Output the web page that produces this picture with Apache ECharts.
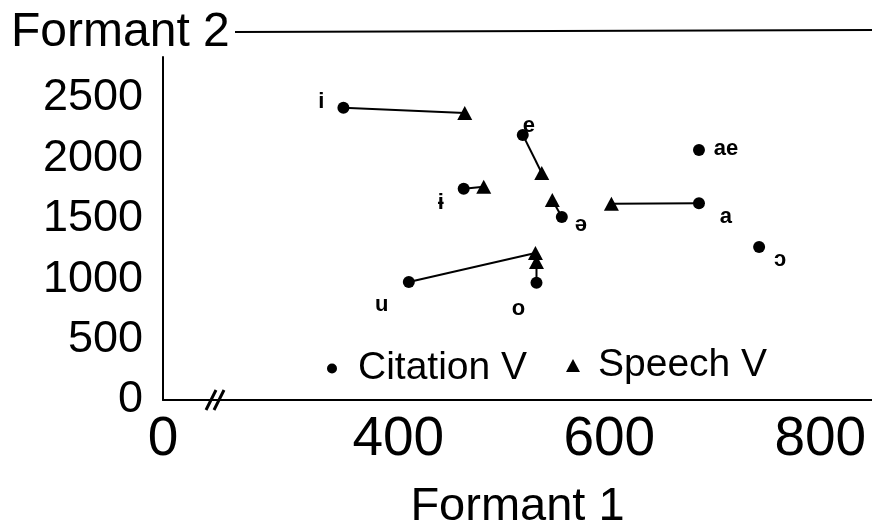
<!DOCTYPE html>
<html>
<head>
<meta charset="utf-8">
<script src="https://cdn.jsdelivr.net/npm/echarts@6/dist/echarts.min.js"></script>
<style>
  html, body { margin: 0; padding: 0; background: #fff; }
  #chart { width: 872px; height: 526px; }
</style>
</head>
<body>
<div id="chart"></div>
<script>
// vowels, citation formants (F1, F2)
const vowels = ['i', 'e', 'ɨ', 'ə', 'a', 'ae', 'ɔ', 'u', 'o'];
const citF1 = [348, 518, 462, 555, 685, 685, 742, 410, 531];
const citF2 = [2420, 2195, 1750, 1515, 1630, 2070, 1267, 977, 970];

// speech formants (null = no speech value)
const speechF1 = [463, 536, 481, 546, 602, null, null, 530, 531];
const speechF2 = [2376, 1880, 1765, 1656, 1625, null, null, 1217, 1142];

// axis ticks
const xTicks = [400, 600, 800];
const yTicks = [0, 500, 1000, 1500, 2000, 2500];
const xMin = 177;   // axis is broken, left end is labelled 0
const xMax = 849;
const yMax = 2840;

// label placement per vowel (pixels from the citation dot)
const labelOffset = {
  'i': [-22, -6], 'e': [6, -9], 'ɨ': [-23, 14], 'ə': [19, 8], 'a': [27, 14],
  'ae': [27, -1], 'ɔ': [21, 13], 'u': [-27, 23], 'o': [-18, 26]
};

const font = 'Liberation Sans, Arial, DejaVu Sans, sans-serif';

const citData = vowels.map((v, i) => ({
  name: v,
  value: [citF1[i], citF2[i]],
  label: { offset: labelOffset[v] }
}));
const speechData = [];
vowels.forEach((v, i) => {
  if (speechF1[i] != null) speechData.push({ name: v, value: [speechF1[i], speechF2[i]] });
});

// connector lines citation -> speech
const links = [];
vowels.forEach((v, i) => {
  if (speechF1[i] == null) return;
  links.push({
    type: 'line',
    name: 'link-' + v,
    data: [[citF1[i], citF2[i]], [speechF1[i], speechF2[i]]],
    symbol: 'none',
    silent: true,
    z: 1,
    lineStyle: { color: '#000', width: 2 }
  });
});

const chart = echarts.init(document.getElementById('chart'));
chart.setOption({
  animation: false,
  backgroundColor: '#fff',
  title: {
    text: 'Formant 2',
    left: 6, top: 4,
    textStyle: { fontFamily: font, fontSize: 48, fontWeight: 'normal', color: '#000' }
  },
  legend: [
    {
      data: [{ name: 'Citation V', icon: 'circle' }],
      left: 327, top: 349, padding: 0,
      itemWidth: 10, itemHeight: 10,
      itemStyle: { opacity: 1 },
      textStyle: { fontFamily: font, fontSize: 39, color: '#000', padding: [0, 0, 0, 16] }
    },
    {
      data: [{ name: 'Speech V', icon: 'triangle' }],
      left: 566, top: 346, padding: 0,
      itemWidth: 14, itemHeight: 13,
      itemStyle: { opacity: 1 },
      textStyle: { fontFamily: font, fontSize: 39, color: '#000', padding: [0, 0, 0, 13] }
    }
  ],
  grid: { left: 163, right: 0, top: 57, bottom: 126, outerBoundsMode: 'none' },
  xAxis: {
    type: 'value',
    min: xMin, max: xMax,
    name: 'Formant 1',
    nameLocation: 'middle',
    nameGap: 84,
    nameTextStyle: { fontFamily: font, fontSize: 47, color: '#000' },
    axisLine: { lineStyle: { color: '#000', width: 2 } },
    axisTick: { show: false },
    splitLine: { show: false },
    axisLabel: {
      customValues: [xMin].concat(xTicks),
      formatter: v => (v === xMin ? '0' : String(v)),
      fontFamily: 'Liberation Sans Narrow, Arial Narrow, sans-serif',
      fontSize: 55, color: '#000', margin: 12
    }
  },
  yAxis: {
    type: 'value',
    min: 0, max: yMax,
    axisLine: { lineStyle: { color: '#000', width: 2 } },
    axisTick: { show: false },
    splitLine: { show: false },
    axisLabel: {
      customValues: yTicks,
      formatter: v => String(v),
      fontFamily: font, fontSize: 45, color: '#000', margin: 20
    }
  },
  series: links.concat([
    {
      type: 'scatter',
      name: 'Citation V',
      data: citData,
      symbol: 'circle',
      symbolSize: 12,
      z: 3,
      itemStyle: { color: '#000', opacity: 1 },
      label: {
        show: true,
        position: 'inside',
        formatter: p => p.name,
        fontFamily: font, fontSize: 22, fontWeight: 'bold', color: '#000'
      }
    },
    {
      type: 'scatter',
      name: 'Speech V',
      data: speechData,
      symbol: 'triangle',
      symbolSize: [15, 14],
      z: 3,
      itemStyle: { color: '#000', opacity: 1 }
    }
  ]),
  graphic: [
    { type: 'line', shape: { x1: 235, y1: 32, x2: 872, y2: 30 }, style: { stroke: '#000', lineWidth: 2 } },
    { type: 'line', shape: { x1: 206, y1: 410, x2: 216, y2: 390 }, style: { stroke: '#000', lineWidth: 3 } },
    { type: 'line', shape: { x1: 214, y1: 410, x2: 224, y2: 390 }, style: { stroke: '#000', lineWidth: 3 } }
  ]
});
</script>
</body>
</html>
